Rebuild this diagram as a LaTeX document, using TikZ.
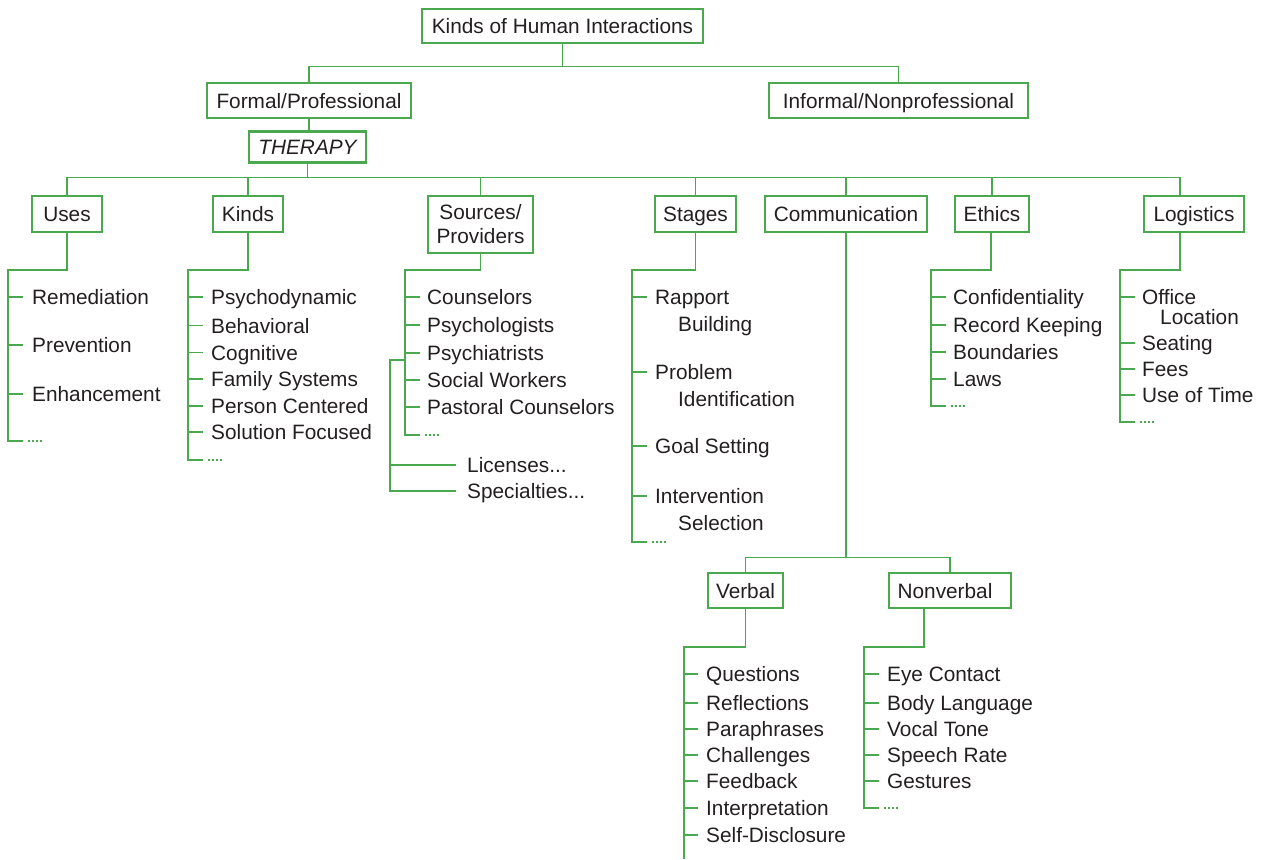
\documentclass[tikz,border=0pt]{standalone}
\usepackage{fontspec}
\setmainfont{Liberation Sans}
\definecolor{tree}{RGB}{74,168,78}
\definecolor{ink}{RGB}{35,31,32}
\begin{document}
\begin{tikzpicture}[x=1pt,y=-1pt,
  every node/.style={font=\fontsize{20.8}{27}\selectfont,text=ink},
  conn/.style={draw=tree,line width=1.3pt},
  dots/.style={draw=tree,line width=1.1pt,dash pattern=on 1.5pt off 2.5pt},
  box/.style={draw=tree,line width=1.3pt,inner sep=0pt,minimum height=36pt,
              text height=15pt,text depth=0pt},
  itm/.style={anchor=base west,inner sep=0pt},
]
\useasboundingbox (0,0) rectangle (1263,859);

% ---------- upper levels ----------
\node[box,minimum width=281pt,minimum height=34pt] (top) at (562.5,26) {Kinds of Human Interactions};
\node[box,minimum width=204pt,minimum height=35pt] (formal) at (309,100.5) {Formal/Professional};
\node[box,minimum width=259pt,minimum height=35pt] (informal) at (898.5,100.5) {Informal/Nonprofessional};
\node[box,line width=2.6pt,minimum width=117pt,minimum height=31pt] (therapy) at (307.5,147) {\itshape THERAPY};

\draw[conn] (top.south) -- ++(0,23) -| (formal.north);
\draw[conn] (top.south) -- ++(0,23) -| (informal.north);
\draw[conn] (formal.south) -- (formal.south |- therapy.north);

% ---------- categories ----------
\node[box,minimum width=70pt] (uses) at (67,214) {Uses};
\node[box,minimum width=70pt] (kinds) at (248,214) {Kinds};
\node[box,minimum width=105pt,minimum height=57pt,align=center,text height=,text depth=,
      font=\fontsize{20.8}{24}\selectfont] (sources) at (480.5,224.5) {Sources/\\Providers};
\node[box,minimum width=81pt] (stages) at (695.5,214) {Stages};
\node[box,minimum width=162pt] (comm) at (846,214) {Communication};
\node[box,minimum width=74pt] (ethics) at (992,214) {Ethics};
\node[box,minimum width=100pt] (logistics) at (1194,214) {Logistics};

\foreach \n in {uses,kinds,sources,stages,comm,ethics}
  \draw[conn] (therapy.south) -- ++(0,13.5) -| (\n.north);
\draw[conn] (therapy.south) -- ++(0,13.5) -| ([xshift=-14pt]logistics.north);

% ---------- Uses ----------
\coordinate (usesA) at (8,270);
\coordinate (usesZ) at (8,441);
\draw[conn] (uses.south) |- (usesA) -- (usesZ) -- ++(15,0);
\draw[dots] ([xshift=20pt]usesZ) -- ++(16,0);
\foreach \yy/\lbl [count=\i] in {297/Remediation,345/Prevention,394/Enhancement}{
  \node[itm] (use\i) at (32,\yy+7.5) {\lbl};
  \draw[conn] ([xshift=-24pt,yshift=7.5pt]use\i.base west) -- ++(15,0);
}

% ---------- Kinds ----------
\coordinate (kindsA) at (188,270);
\coordinate (kindsZ) at (188,460);
\draw[conn] (kinds.south) |- (kindsA) -- (kindsZ) -- ++(15,0);
\draw[dots] ([xshift=20pt]kindsZ) -- ++(16,0);
\foreach \yy/\lbl [count=\i] in {297/Psychodynamic,325.5/Behavioral,352.5/Cognitive,379/Family Systems,406/Person Centered,432/Solution Focused}{
  \node[itm] (kind\i) at (211,\yy+7.5) {\lbl};
  \draw[conn] ([xshift=-23pt,yshift=7.5pt]kind\i.base west) -- ++(15,0);
}

% ---------- Sources/Providers ----------
\coordinate (srcA) at (405,270);
\coordinate (srcZ) at (405,435);
\draw[conn] (sources.south) |- (srcA) -- (srcZ) -- ++(15,0);
\draw[dots] ([xshift=20pt]srcZ) -- ++(16,0);
\foreach \yy/\lbl [count=\i] in {297/Counselors,325/Psychologists,353/Psychiatrists,380/Social Workers,407/Pastoral Counselors}{
  \node[itm] (src\i) at (427,\yy+7.5) {\lbl};
  \draw[conn] ([xshift=-22pt,yshift=7.5pt]src\i.base west) -- ++(15,0);
}
\coordinate (licA) at (405,360);
\coordinate (licB) at (390,360);
\node[itm] (lic) at (467,465+7.5) {Licenses...};
\node[itm] (spec) at (467,491+7.5) {Specialties...};
\draw[conn] (licA) -- (licB) |- ([xshift=-11pt,yshift=7.5pt]spec.base west);
\draw[conn] (licB |- lic.base) ++(0,-7.5) -- ([xshift=-11pt,yshift=7.5pt]lic.base west);

% ---------- Stages ----------
\coordinate (stgA) at (632,270);
\coordinate (stgZ) at (632,542);
\draw[conn] (stages.south) |- (stgA) -- (stgZ) -- ++(15,0);
\draw[dots] ([xshift=20pt]stgZ) -- ++(16,0);
\foreach \yy/\lbl/\lblb [count=\i] in {297/Rapport/Building,372/Problem/Identification,496/Intervention/Selection}{
  \node[itm] (stg\i) at (655,\yy+7.5) {\lbl};
  \node[itm] (stg\i b) at (678,\yy+27+7.5) {\lblb};
  \draw[conn] ([xshift=-23pt,yshift=7.5pt]stg\i.base west) -- ++(15,0);
}
\node[itm] (goal) at (655,446+7.5) {Goal Setting};
\draw[conn] ([xshift=-23pt,yshift=7.5pt]goal.base west) -- ++(15,0);

% ---------- Communication ----------
\node[box,minimum width=75pt,minimum height=35pt] (verbal) at (745.5,590.5) {Verbal};
\node[box,minimum width=122pt,minimum height=35pt] (nonverbal) at (950,590.5) {Nonverbal\hspace*{10pt}};
\draw[conn] (comm.south) -- ++(0,325) -| (verbal.north);
\draw[conn] (comm.south) -- ++(0,325) -| (nonverbal.north);

% Verbal
\coordinate (verA) at (684,647);
\coordinate (verZ) at (684,859);
\draw[conn] (verbal.south) |- (verA) -- (verZ);
\foreach \yy/\lbl [count=\i] in {674/Questions,703/Reflections,729/Paraphrases,755/Challenges,781/Feedback,808/Interpretation,835/Self-Disclosure}{
  \node[itm] (ver\i) at (706,\yy+7.5) {\lbl};
  \draw[conn] ([xshift=-22pt,yshift=7.5pt]ver\i.base west) -- ++(14,0);
}

% Nonverbal
\coordinate (nvA) at (864,647);
\coordinate (nvZ) at (864,808);
\draw[conn] ([xshift=-26pt]nonverbal.south) |- (nvA) -- (nvZ) -- ++(15,0);
\draw[dots] ([xshift=20pt]nvZ) -- ++(16,0);
\foreach \yy/\lbl [count=\i] in {674/Eye Contact,703/Body Language,729/Vocal Tone,755/Speech Rate,781/Gestures}{
  \node[itm] (nv\i) at (887,\yy+7.5) {\lbl};
  \draw[conn] ([xshift=-23pt,yshift=7.5pt]nv\i.base west) -- ++(15,0);
}

% ---------- Ethics ----------
\coordinate (ethA) at (931,270);
\coordinate (ethZ) at (931,406);
\draw[conn] ([xshift=-1pt]ethics.south) |- (ethA) -- (ethZ) -- ++(15,0);
\draw[dots] ([xshift=20pt]ethZ) -- ++(16,0);
\foreach \yy/\lbl [count=\i] in {297/Confidentiality,325/Record Keeping,352/Boundaries,379/Laws}{
  \node[itm] (eth\i) at (953,\yy+7.5) {\lbl};
  \draw[conn] ([xshift=-22pt,yshift=7.5pt]eth\i.base west) -- ++(15,0);
}

% ---------- Logistics ----------
\coordinate (logA) at (1120,270);
\coordinate (logZ) at (1120,422);
\draw[conn] ([xshift=-14pt]logistics.south) |- (logA) -- (logZ) -- ++(15,0);
\draw[dots] ([xshift=20pt]logZ) -- ++(16,0);
\node[itm] (log1) at (1142,297+7.5) {Office};
\node[itm] (log1b) at (1160,317+7.5) {Location};
\draw[conn] ([xshift=-22pt,yshift=7.5pt]log1.base west) -- ++(15,0);
\foreach \yy/\lbl [count=\i from 2] in {343/Seating,369/Fees,395/Use of Time}{
  \node[itm] (log\i) at (1142,\yy+7.5) {\lbl};
  \draw[conn] ([xshift=-22pt,yshift=7.5pt]log\i.base west) -- ++(15,0);
}
\end{tikzpicture}
\end{document}
